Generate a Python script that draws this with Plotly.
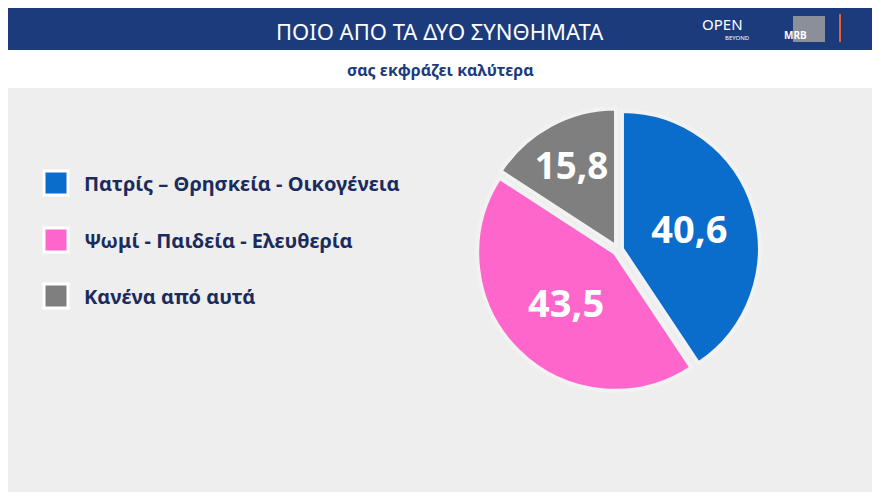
import plotly.graph_objects as go

labels = ["Πατρίς – Θρησκεία - Οικογένεια", "Ψωμί - Παιδεία - Ελευθερία", "Κανένα από αυτά"]
values = [40.6, 43.5, 15.8]
colors = ["#0a6ccb", "#ff66cc", "#7f7f7f"]
value_text = ["40,6", "43,5", "15,8"]

W, H = 880, 492
OFF = 8  # page body margin


def px(x):
    return (x - OFF) / W


def py(y):
    return 1 - (y - OFF) / H


fig = go.Figure()

fig.add_trace(go.Pie(
    labels=labels, values=values, sort=False, direction="clockwise", rotation=0,
    marker=dict(colors=colors, line=dict(color="#f2f2f2", width=4)),
    pull=[0.03, 0.03, 0.03],
    text=value_text, textinfo="text", textposition="inside", insidetextorientation="horizontal",
    textfont=dict(family="Noto Sans", size=38, color="white", weight="bold"),
    domain=dict(x=[px(476), px(760)], y=[py(394), py(106)]),
    showlegend=False, hoverinfo="label+value",
))

shapes = [
    dict(type="rect", xref="paper", yref="paper", x0=0, x1=1, y0=py(50), y1=1,
         fillcolor="#1b3b7c", line_width=0, layer="below"),
    dict(type="rect", xref="paper", yref="paper", x0=0, x1=1, y0=py(88), y1=py(50),
         fillcolor="white", line_width=0, layer="below"),
    dict(type="line", xref="paper", yref="paper", x0=px(840), x1=px(840), y0=py(42), y1=py(14),
         line=dict(color="#e8602c", width=2)),
    dict(type="rect", xref="paper", yref="paper", x0=px(793), x1=px(825), y0=py(42), y1=py(16),
         fillcolor="#8a8f99", line_width=0),
]
annotations = [
    dict(text="ΠΟΙΟ ΑΠΟ ΤΑ ΔΥΟ ΣΥΝΘΗΜΑΤΑ", x=px(440), y=py(31),
         font=dict(family="Noto Sans", size=22, color="white")),
    dict(text="σας εκφράζει καλύτερα", x=px(440), y=py(70),
         font=dict(family="Noto Sans", size=16, color="#1b3b7c", weight="bold")),
    dict(text="OPEN", x=px(745), y=py(24),
         font=dict(family="Noto Sans", size=15, color="white")),
    dict(text="BEYOND", x=px(752), y=py(38),
         font=dict(family="Noto Sans", size=6, color="white")),
    dict(text="MRB", x=px(809), y=py(35),
         font=dict(family="Noto Sans", size=10, color="white", weight="bold")),
]
ys = [183, 240, 296]
for lab, col, y in zip(labels, colors, ys):
    shapes.append(dict(type="rect", xref="paper", yref="paper", x0=px(44), x1=px(68),
                       y0=py(y + 12), y1=py(y - 12), fillcolor=col,
                       line=dict(color="white", width=3)))
    annotations.append(dict(text=lab, x=px(82), y=py(y), xanchor="left",
                            font=dict(family="Noto Sans", size=20, color="#1b2b5c", weight="bold")))

for a in annotations:
    a.update(xref="paper", yref="paper", showarrow=False, yanchor="middle")

fig.update_layout(
    width=W, height=H, margin=dict(l=0, r=0, t=0, b=0),
    paper_bgcolor="#eeeeef", plot_bgcolor="#eeeeef",
    shapes=shapes, annotations=annotations,
)
fig.write_html("out.html")
